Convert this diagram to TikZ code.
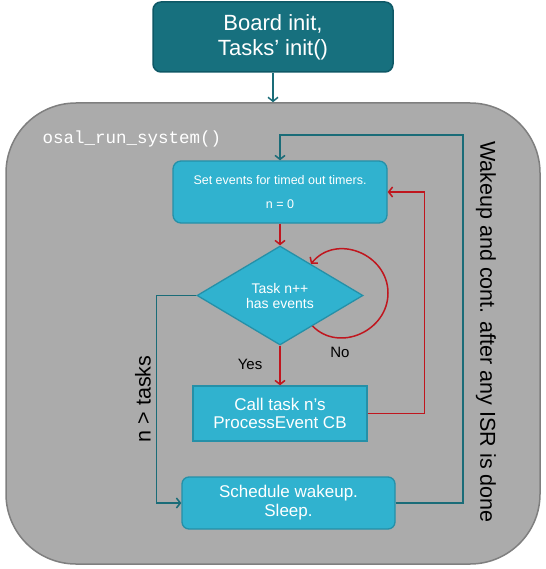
\documentclass[tikz,border=0pt]{standalone}
\usepackage{fontspec}
\setmainfont{Liberation Sans}
\setmonofont{Liberation Mono}
\usetikzlibrary{shapes.geometric,arrows.meta,calc}
\definecolor{initfill}{HTML}{17707E}
\definecolor{initdraw}{HTML}{0E5866}
\definecolor{boxfill}{HTML}{30B2CF}
\definecolor{boxdraw}{HTML}{2590A8}
\definecolor{tealline}{HTML}{1A6C78}
\definecolor{redline}{HTML}{C0161E}
\definecolor{sysfill}{HTML}{ABABAB}
\definecolor{sysdraw}{HTML}{7F7F7F}
\begin{document}
\begin{tikzpicture}[x=1pt,y=-1pt,
  tealarrow/.style={draw=tealline, line width=1.5pt, -{Straight Barb[length=4pt,width=10pt]}},
  redarrow/.style={draw=redline, line width=1.5pt, -{Straight Barb[length=4pt,width=10pt]}},
  taskbox/.style={draw=boxdraw, fill=boxfill, line width=1.3pt, text=white, align=center, inner sep=0pt},
  sidetext/.style={text=black, font=\fontsize{21.5}{24}\selectfont}]
\useasboundingbox (0,0) rectangle (545,569);
\node[draw=sysdraw, fill=sysfill, line width=1.5pt, rounded corners=70pt, minimum width=534pt, minimum height=461pt] (sys) at (273,333.5) {};
\node[draw=initdraw, fill=initfill, line width=1.5pt, rounded corners=8pt, minimum width=240pt, minimum height=70pt, text=white, align=center, inner sep=0pt, font=\fontsize{22}{25}\selectfont] (init) at (273,37) {Board init,\\Tasks' init()};
\node[anchor=west, text=white, font=\ttfamily\fontsize{17.5}{20}\selectfont] (osal) at (39,139) {osal\_run\_system()};
\node[taskbox, rounded corners=8pt, minimum width=214pt, minimum height=62pt, font=\fontsize{12.5}{15}\selectfont] (setev) at (280,192) {Set events for timed out timers.\\[9pt]n = 0};
\node[taskbox, diamond, aspect=1.68, minimum width=166pt, minimum height=99pt, font=\fontsize{14}{15}\selectfont] (dia) at (280,295.5) {Task n++\\has events};
\node[taskbox, minimum width=174pt, minimum height=55pt, font=\fontsize{17}{18}\selectfont] (call) at (280,413.5) {Call task n's\\ProcessEvent CB};
\node[taskbox, rounded corners=7pt, minimum width=213pt, minimum height=52pt, font=\fontsize{17}{19}\selectfont] (sched) at (288.5,503) {Schedule wakeup.\\Sleep.};
\node[font=\fontsize{15}{17}\selectfont] (yes) at (250,364) {Yes};
\node[font=\fontsize{15}{17}\selectfont] (no) at (340,352) {No};
\node[sidetext, rotate=90] (ntasks) at (143,399) {n > tasks};
\node[sidetext, rotate=-90] (wakeup) at (486,332) {Wakeup and cont. after any ISR is done};
\coordinate (ret) at (463,135);
\coordinate (loopin) at ($(dia.east)!0.61!(dia.south)$);
\coordinate (loopout) at ($(dia.north)!0.37!(dia.east)$);
\draw[tealarrow] (init.south) -- (sys.north);
\draw[redarrow] (setev.south) -- (dia.north);
\draw[redarrow] (dia.south) -- (call.north);
\draw[redarrow] (loopin) .. controls (339,353) and (388,331) .. (388,293) .. controls (388,254) and (336,233) .. (loopout);
\draw[redarrow] (call.east) -- ++(57,0) |- (setev.east);
\draw[tealarrow] (dia.west) -- ++(-40,0) |- (sched.west);
\draw[tealarrow] (sched.east) -| (ret) -| (setev.north);
\end{tikzpicture}
\end{document}
